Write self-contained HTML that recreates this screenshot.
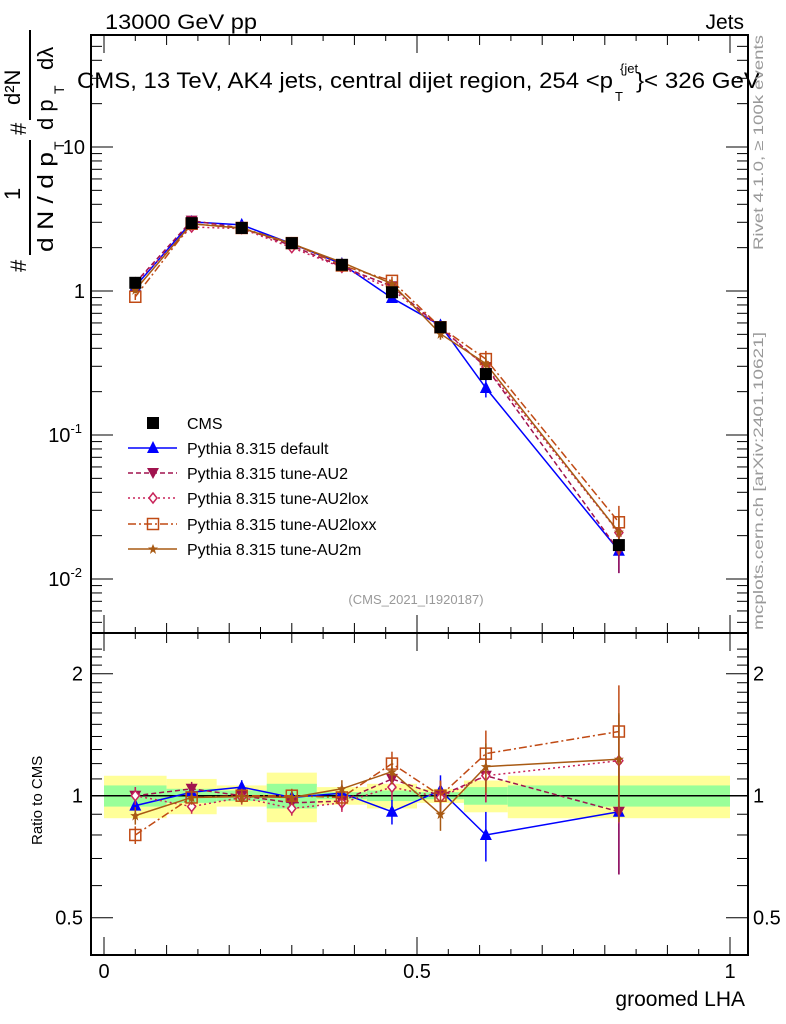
<!DOCTYPE html>
<html><head><meta charset="utf-8"><style>
body{margin:0;background:#fff;}
svg{display:block;font-family:"Liberation Sans",sans-serif;}
</style></head><body>
<svg id="chart" width="786" height="1024" viewBox="0 0 786 1024">
<g id="bands"></g>
<g id="axes"></g>
<g id="series"></g>
<g id="legend"></g>
<text x="105" y="29" font-size="21" textLength="152" lengthAdjust="spacingAndGlyphs">13000 GeV pp</text>
<text x="744" y="29" font-size="21" text-anchor="end">Jets</text>
<g>
<text x="77" y="88" font-size="22" textLength="536" lengthAdjust="spacingAndGlyphs">CMS, 13 TeV, AK4 jets, central dijet region, 254 &lt;p</text>
<text x="615" y="101" font-size="13">T</text>
<text x="620" y="73" font-size="13">{jet</text>
<text x="636" y="88" font-size="22" textLength="124" lengthAdjust="spacingAndGlyphs">}&lt; 326 GeV</text>
</g>
<text x="416" y="604" font-size="13" fill="#999" text-anchor="middle">(CMS_2021_I1920187)</text>
<text transform="translate(763,250) rotate(-90)" font-size="14" fill="#999" textLength="215" lengthAdjust="spacingAndGlyphs">Rivet 4.1.0, ≥ 100k events</text>
<text transform="translate(763,630) rotate(-90)" font-size="14" fill="#999" textLength="298" lengthAdjust="spacingAndGlyphs">mcplots.cern.ch [arXiv:2401.10621]</text>
<g transform="translate(0,0)">
<text transform="translate(26,272) rotate(-90)" font-size="22">#</text>
<text transform="translate(20,200) rotate(-90)" font-size="22">1</text>
<line x1="30" x2="30" y1="140" y2="255" stroke="#000" stroke-width="2"/>
<text transform="translate(53,252) rotate(-90)" font-size="22" textLength="100" lengthAdjust="spacingAndGlyphs">d N / d p</text>
<text transform="translate(64,150) rotate(-90)" font-size="14">T</text>
<text transform="translate(26,135) rotate(-90)" font-size="22">#</text>
<text transform="translate(20,105) rotate(-90)" font-size="22">d²N</text>
<line x1="30" x2="30" y1="30" y2="120" stroke="#000" stroke-width="2"/>
<text transform="translate(53,130) rotate(-90)" font-size="22">d p</text>
<text transform="translate(64,94) rotate(-90)" font-size="14">T</text>
<text transform="translate(53,70) rotate(-90)" font-size="22">dλ</text>
</g>
<text transform="translate(42,845) rotate(-90)" font-size="15">Ratio to CMS</text>
<text x="745" y="1006" font-size="21" text-anchor="end">groomed LHA</text>
</svg>
<script>
const edges=[0,0.1,0.18,0.26,0.34,0.42,0.5,0.575,0.645,1.0];
const xs=[0.05,0.14,0.22,0.30,0.38,0.46,0.5375,0.61,0.8225];
const cms=[1.14,2.96,2.74,2.15,1.52,0.98,0.56,0.265,0.0172];
const totErr=[0.12,0.10,0.06,0.14,0.05,0.07,0.04,0.09,0.12];
const statErr=[0.06,0.04,0.03,0.07,0.02,0.03,0.02,0.05,0.06];
const rDefault=[0.945,1.02,1.05,0.99,1.015,0.913,1.03,0.80,0.913];
const rAU2=[1.0,1.04,1.0,0.96,0.97,1.10,1.0,1.12,0.913];
const rAU2lox=[1.0,0.94,0.99,0.93,0.96,1.05,0.99,1.12,1.22];
const rAU2loxx=[0.80,0.99,1.0,1.0,0.99,1.20,1.0,1.27,1.44];
const rAU2m=[0.893,0.99,0.995,0.99,1.04,1.146,0.90,1.18,1.23];
const mcErr=[0.05,0.04,0.04,0.04,0.05,0.07,0.09,0.14,0.30];
const xTicks=[0,0.5,1];
const yTicks=[10,1,0.1,0.01];
const rTicks=[0.5,1,2];

const NS='http://www.w3.org/2000/svg';
const L=91,R=748,T=35,MB=633,RB=955;
const X=v=>104+v*626;
const Y=v=>291-Math.log10(v)*144;
const YR=v=>795.7-Math.log2(v)*122;
function mk(tag,at,parent){const e=document.createElementNS(NS,tag);for(const k in at)e.setAttribute(k,at[k]);parent.appendChild(e);return e;}
const gb=document.getElementById('bands'),ga=document.getElementById('axes'),gs=document.getElementById('series'),gl=document.getElementById('legend');

for(let i=0;i<cms.length;i++){
  const x0=X(edges[i]),x1=X(edges[i+1]);
  const y=mk('rect',{x:x0,y:YR(1+totErr[i]),width:x1-x0,height:YR(1-totErr[i])-YR(1+totErr[i]),fill:'#ffff99'},gb);
  
  
  const g=mk('rect',{x:x0,y:YR(1+statErr[i]),width:x1-x0,height:YR(1-statErr[i])-YR(1+statErr[i]),fill:'#99ff99'},gb);
  
  
}
mk('line',{x1:L,x2:R,y1:YR(1),y2:YR(1),stroke:'#000','stroke-width':1.5},ga);

let f=mk('rect',{x:L,y:T,width:R-L,height:MB-T,fill:'none',stroke:'#000','stroke-width':2},ga);


f=mk('rect',{x:L,y:MB,width:R-L,height:RB-MB,fill:'none',stroke:'#000','stroke-width':2},ga);



for(let v=0;v<=1.0001;v+=0.05){
  const big=Math.abs(v*10-Math.round(v*10))<1e-6;const len=Math.abs(v*2-Math.round(v*2))<1e-6?18:(big?10:6);
  [[T,1],[MB,-1],[MB,1],[RB,-1]].forEach(([y0,d])=>mk('line',{x1:X(v),x2:X(v),y1:y0,y2:y0+d*len,stroke:'#000'},ga));
}
xTicks.forEach(v=>{const t=mk('text',{x:X(v),y:978,'font-size':20,'text-anchor':'middle'},ga);t.textContent=String(v);

});
for(let d=-3;d<=1;d++)for(let m=1;m<10;m++){const v=m*Math.pow(10,d);const y=Y(v);if(y<T||y>MB)continue;const len=m==1?22:11;
  mk('line',{x1:L,x2:L+len,y1:y,y2:y,stroke:'#000'},ga);mk('line',{x1:R,x2:R-len,y1:y,y2:y,stroke:'#000'},ga);}
yTicks.forEach(v=>{const t=mk('text',{x:85,y:Y(v)+7,'font-size':20,'text-anchor':'end'},ga);
  if(v>=1)t.textContent=String(v);else{t.textContent='10';const s=mk('tspan',{dy:-9,'font-size':13},t);s.textContent=String(Math.round(Math.log10(v)));t.setAttribute('x',82);}
  
  });
for(let v=0.4;v<=2.35;v+=0.1){const y=YR(v);if(y<MB||y>RB)continue;const major=[0.5,1,2].some(m=>Math.abs(m-v)<1e-6);const len=major?22:11;
  mk('line',{x1:L,x2:L+len,y1:y,y2:y,stroke:'#000'},ga);mk('line',{x1:R,x2:R-len,y1:y,y2:y,stroke:'#000'},ga);}
rTicks.forEach(v=>{[[83,'end'],[753,'start']].forEach(([x,a])=>{const t=mk('text',{x:x,y:YR(v)+7,'font-size':20,'text-anchor':a},ga);t.textContent=String(v);

});});

function marker(type,x,y,c,p){
  if(type=='sq')return mk('rect',{x:x-6,y:y-6,width:12,height:12,fill:c},p);
  if(type=='tri')return mk('polygon',{points:`${x},${y-7} ${x-6},${y+5} ${x+6},${y+5}`,fill:c},p);
  if(type=='dtri')return mk('polygon',{points:`${x},${y+6} ${x-6},${y-5} ${x+6},${y-5}`,fill:c},p);
  if(type=='dia')return mk('polygon',{points:`${x},${y-5} ${x-4},${y} ${x},${y+5} ${x+4},${y}`,fill:'#fff',stroke:c,'stroke-width':1.5},p);
  if(type=='osq')return mk('rect',{x:x-5.5,y:y-5.5,width:11,height:11,fill:'none',stroke:c,'stroke-width':1.5},p);
  if(type=='star')return mk('polygon',{points:`${x},${y-5} ${x+1.5},${y-1.5} ${x+5},${y-1.5} ${x+2},${y+1} ${x+3},${y+5} ${x},${y+2.5} ${x-3},${y+5} ${x-2},${y+1} ${x-5},${y-1.5} ${x-1.5},${y-1.5}`,fill:c},p);
}
const models=[
 {name:'default',label:'Pythia 8.315 default',r:rDefault,c:'#0000ff',dash:'',m:'tri'},
 {name:'au2',label:'Pythia 8.315 tune-AU2',r:rAU2,c:'#a0124e',dash:'5,3',m:'dtri'},
 {name:'au2lox',label:'Pythia 8.315 tune-AU2lox',r:rAU2lox,c:'#c8245a',dash:'2,3',m:'dia'},
 {name:'au2loxx',label:'Pythia 8.315 tune-AU2loxx',r:rAU2loxx,c:'#c04a14',dash:'8,3,2,3',m:'osq'},
 {name:'au2m',label:'Pythia 8.315 tune-AU2m',r:rAU2m,c:'#a85a14',dash:'',m:'star'}];
models.forEach(md=>{
  const g=mk('g',{},gs);
  
  
  const main=md.r.map((r,i)=>r*cms[i]);
  const attrs={fill:'none',stroke:md.c,'stroke-width':1.5};if(md.dash)attrs['stroke-dasharray']=md.dash;
  mk('polyline',Object.assign({points:main.map((v,i)=>X(xs[i])+','+Y(v)).join(' ')},attrs),g);
  mk('polyline',Object.assign({points:md.r.map((v,i)=>X(xs[i])+','+YR(v)).join(' ')},attrs),g);
  main.forEach((v,i)=>{const x=X(xs[i]);
    mk('line',{x1:x,x2:x,y1:Y(v*(1+mcErr[i])),y2:Y(v*(1-mcErr[i])),stroke:md.c,'stroke-width':1.5},g);
    marker(md.m,x,Y(v),md.c,g);
    const rv=md.r[i];
    mk('line',{x1:x,x2:x,y1:YR(rv*(1+mcErr[i])),y2:YR(rv*(1-mcErr[i])),stroke:md.c,'stroke-width':1.5},g);
    marker(md.m,x,YR(rv),md.c,g);});
});
const gc=mk('g',{},gs);


cms.forEach((v,i)=>marker('sq',X(xs[i]),Y(v),'#000',gc));
const ly=[423,448,473,498,524,549];
marker('sq',153,ly[0],'#000',gl);
let t=mk('text',{x:187,y:ly[0]+6,'font-size':16},gl);t.textContent='CMS';


models.forEach((md,k)=>{const y=ly[k+1];
  const a={x1:128,x2:177,y1:y,y2:y,stroke:md.c,'stroke-width':1.5};if(md.dash)a['stroke-dasharray']=md.dash;mk('line',a,gl);
  marker(md.m,153,y,md.c,gl);
  const tt=mk('text',{x:187,y:y+6,'font-size':16},gl);tt.textContent=md.label;
  
  });
</script>
</body></html>
